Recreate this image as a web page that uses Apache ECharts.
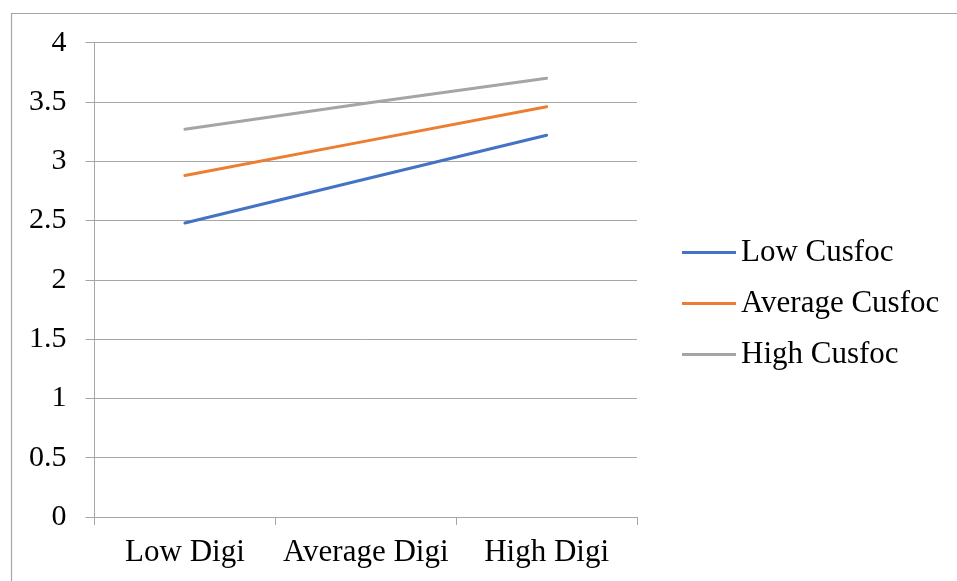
<!DOCTYPE html>
<html>
<head>
<meta charset="utf-8">
<script src="https://cdn.jsdelivr.net/npm/echarts@6/dist/echarts.min.js"></script>
<style>
html,body{margin:0;padding:0;background:#fff;}
#chart{width:957px;height:581px;}
</style>
</head>
<body>
<div id="chart"></div>
<script>
const categories = ['Low Digi', 'Average Digi', 'High Digi'];
const lowCusfoc = [2.48, 2.85, 3.22];
const averageCusfoc = [2.88, 3.17, 3.46];
const highCusfoc = [3.27, 3.49, 3.70];
const seriesNames = ['Low Cusfoc', 'Average Cusfoc', 'High Cusfoc'];
const colors = ['#4472C4', '#ED7D31', '#A5A5A5'];

const font = 'Liberation Serif, Times New Roman, serif';
const chart = echarts.init(document.getElementById('chart'), null, {renderer: 'canvas'});
const mk = (name, data, color) => ({
  name, type: 'line', data, symbol: 'none', showSymbol: false,
  lineStyle: {color, width: 3, cap: 'round'}, itemStyle: {color}
});
chart.setOption({
  animation: false,
  textStyle: {fontFamily: font},
  graphic: [{
    type: 'rect', left: 9, top: 11, silent: true,
    shape: {width: 1000, height: 1000},
    style: {fill: 'none', stroke: '#a6a6a6', lineWidth: 1.2}
  }],
  grid: {left: 94.5, right: 320, top: 42.7, bottom: 64, containLabel: false},
  legend: {
    orient: 'vertical', left: 677, top: 232,
    itemWidth: 54, itemHeight: 3, itemGap: 20, icon: 'rect',
    textStyle: {fontFamily: font, fontSize: 31, color: '#000', lineHeight: 31, padding: [0, 0, 0, 0]},
    data: seriesNames
  },
  xAxis: {
    type: 'category', data: categories, boundaryGap: true,
    axisLine: {lineStyle: {color: '#a6a6a6', width: 1}},
    axisTick: {show: true, length: 8, interval: 0, alignWithLabel: false, lineStyle: {color: '#a6a6a6'}},
    axisLabel: {fontFamily: font, fontSize: 31, color: '#000', margin: 20, interval: 0, hideOverlap: false},
    splitLine: {show: false}
  },
  yAxis: {
    type: 'value', min: 0, max: 4, interval: 0.5,
    axisLine: {show: true, lineStyle: {color: '#a6a6a6', width: 1}},
    axisTick: {show: true, length: 9, lineStyle: {color: '#a6a6a6'}},
    axisLabel: {fontFamily: font, fontSize: 30, color: '#000', margin: 28},
    splitLine: {show: true, lineStyle: {color: '#a6a6a6', width: 1}}
  },
  series: [
    mk(seriesNames[0], lowCusfoc, colors[0]),
    mk(seriesNames[1], averageCusfoc, colors[1]),
    mk(seriesNames[2], highCusfoc, colors[2])
  ]
});
</script>
</body>
</html>
